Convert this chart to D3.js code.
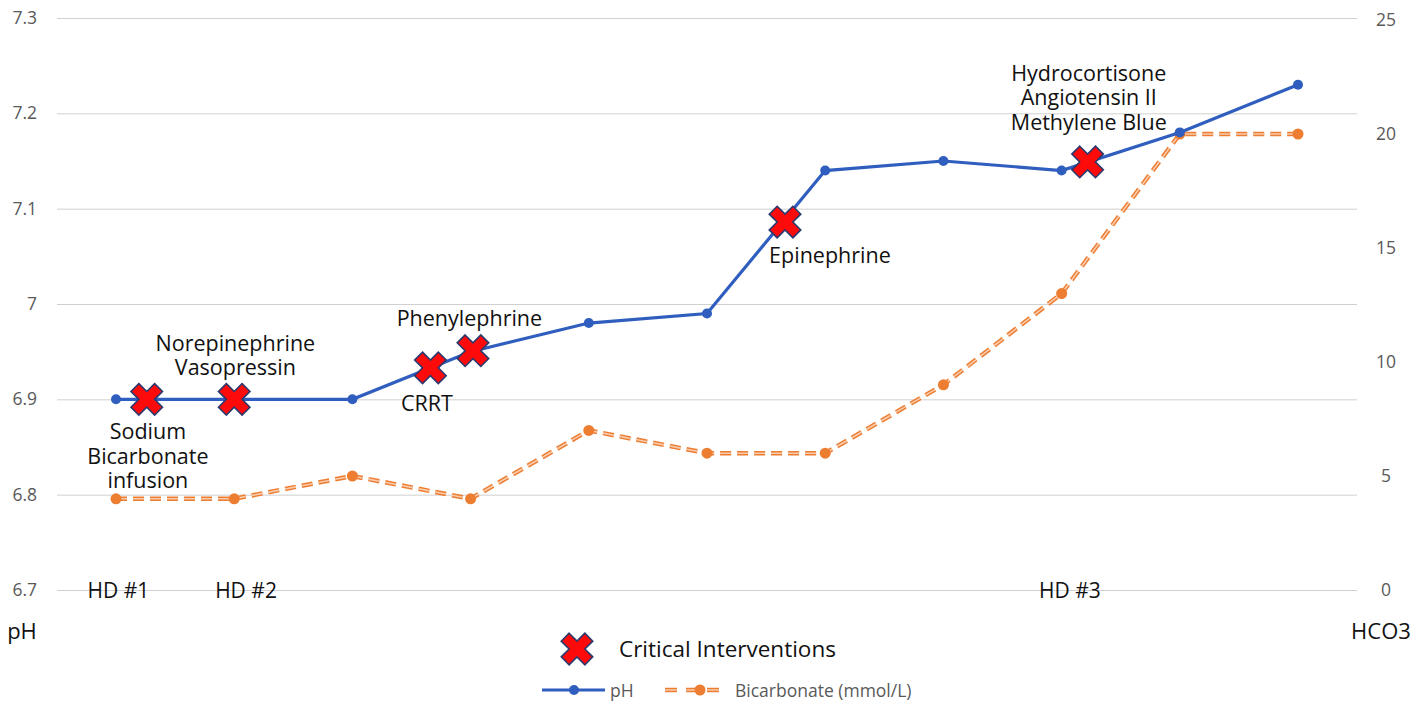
<!DOCTYPE html>
<html>
<head>
<meta charset="utf-8">
<script src="https://cdn.jsdelivr.net/npm/d3@7"></script>
<style>
  body { margin: 0; background: #fff; }
  text { font-family: "Open Sans", "Liberation Sans", sans-serif; }
</style>
</head>
<body>
<div id="plot"></div>
<script>
// ############ DATA ###############

const steps = d3.range(11);
const phValues = [6.9, 6.9, 6.9, 6.95, 6.98, 6.99, 7.14, 7.15, 7.14, 7.18, 7.23];
const bicarbValues = [4, 4, 5, 4, 7, 6, 6, 9, 13, 20, 20];

const phTicks = [6.7, 6.8, 6.9, 7.0, 7.1, 7.2, 7.3];
const hco3Ticks = [0, 5, 10, 15, 20, 25];

// interventions: position along the step axis, pH at that spot
const interventionPos = [0.26, 1.0, 2.66, 3.02, 5.66, 8.22];
const interventionPh = [6.9, 6.9, 6.933, 6.951, 7.086, 7.149];

// annotation text, anchored on step / pH
const noteLines = [
  ["Sodium", "Bicarbonate", "infusion"],
  ["Norepinephrine", "Vasopressin"],
  ["Phenylephrine"],
  ["CRRT"],
  ["Epinephrine"],
  ["Hydrocortisone", "Angiotensin II", "Methylene Blue"]
];
const notePos = [0.27, 1.01, 2.99, 2.63, 6.04, 8.23];
const notePh = [6.858, 6.951, 6.977, 6.888, 7.043, 7.234];

const hdLabels = ["HD #1", "HD #2", "HD #3"];
const hdPos = [0.02, 1.1, 8.07];

// ############ SETUP ###############

const w = 1412, h = 704;
const left = 57, right = 1357;

const svg = d3.select("div#plot")
  .append("svg")
  .attr("width", w)
  .attr("height", h);

const xScale = d3.scaleLinear().domain([0, 10]).range([116, 1298]);
const yScale = d3.scaleLinear().domain([6.7, 7.3]).range([590, 18]);
const y2Scale = d3.scaleLinear().domain([0, 25]).range([590, 20]);

const blue = "#2F5EBF";
const orange = "#ED7D31";
const grey = "#595959";

// gridlines + left axis
svg.append("g")
  .attr("id", "yaxis")
  .attr("transform", `translate(${left},0)`)
  .call(d3.axisLeft(yScale).tickValues(phTicks).tickSize(-(right - left)).tickPadding(20)
    .tickFormat(d => d3.format("")(+d.toFixed(1))))
  .call(g => g.select(".domain").remove())
  .call(g => g.selectAll("line").attr("stroke", "#d0d0d0").attr("stroke-width", 1))
  .call(g => g.selectAll("text").attr("fill", grey).style("font-size", "17.5px")
    .style("font-family", "'Open Sans', sans-serif"));

// right axis
svg.append("g")
  .attr("id", "y2axis")
  .attr("transform", `translate(${right},0)`)
  .call(d3.axisRight(y2Scale).tickValues(hco3Ticks).tickSize(0).tickPadding(29))
  .call(g => g.select(".domain").remove())
  .call(g => g.selectAll("text").attr("fill", grey).attr("text-anchor", "middle")
    .style("font-size", "17.5px").style("font-family", "'Open Sans', sans-serif"));

// axis titles
svg.append("text").attr("x", 22).attr("y", 639).attr("text-anchor", "middle")
  .style("font-size", "22px").attr("fill", "#111").text("pH");
svg.append("text").attr("x", 1381).attr("y", 639).attr("text-anchor", "middle")
  .style("font-size", "22px").attr("fill", "#111").text("HCO3");

// HD labels
svg.append("g").selectAll("text")
  .data(hdLabels)
  .enter()
  .append("text")
    .attr("x", (d, i) => xScale(hdPos[i]))
    .attr("y", 598)
    .attr("text-anchor", "middle")
    .style("font-size", "21px")
    .attr("fill", "#111")
    .text(d => d);

// bicarbonate line
const bicarbLine = d3.line().x((d, i) => xScale(i)).y(d => y2Scale(d));

svg.append("path")
  .datum(bicarbValues)
  .attr("d", bicarbLine)
  .attr("fill", "none")
  .attr("stroke", orange)
  .attr("stroke-width", 4.5)
  .attr("stroke-dasharray", "11,6");

svg.append("path")
  .datum(bicarbValues)
  .attr("d", bicarbLine)
  .attr("fill", "none")
  .attr("stroke", "#F8CBAD")
  .attr("stroke-width", 1.6)
  .attr("stroke-dasharray", "11,6");

svg.append("g").selectAll("circle")
  .data(bicarbValues)
  .enter()
  .append("circle")
    .attr("cx", (d, i) => xScale(i))
    .attr("cy", d => y2Scale(d))
    .attr("r", 5.5)
    .attr("fill", orange);

// pH line
svg.append("path")
  .datum(phValues)
  .attr("d", d3.line().x((d, i) => xScale(i)).y(d => yScale(d)))
  .attr("fill", "none")
  .attr("stroke", blue)
  .attr("stroke-width", 3.2);

svg.append("g").selectAll("circle")
  .data(phValues)
  .enter()
  .append("circle")
    .attr("cx", (d, i) => xScale(i))
    .attr("cy", d => yScale(d))
    .attr("r", 5)
    .attr("fill", blue);

// intervention markers
const crossPath = d3.symbol().type(d3.symbolCross).size(620)();

function drawCross(g, x, y) {
  g.append("path")
    .attr("d", crossPath)
    .attr("transform", `translate(${x},${y}) rotate(45)`)
    .attr("fill", "#FF0A0A")
    .attr("stroke", "#2A3A6E")
    .attr("stroke-width", 1.6)
    .attr("stroke-linejoin", "miter");
}

const marks = svg.append("g").attr("id", "interventions");
interventionPos.forEach((p, i) => drawCross(marks, xScale(p), yScale(interventionPh[i])));

// annotations
const notes = svg.append("g").attr("id", "notes");
noteLines.forEach((lines, i) => {
  const t = notes.append("text")
    .attr("x", xScale(notePos[i]))
    .attr("y", yScale(notePh[i]))
    .attr("text-anchor", "middle")
    .style("font-size", "21.5px")
    .attr("fill", "#111");
  lines.forEach((l, j) => {
    t.append("tspan")
      .attr("x", xScale(notePos[i]))
      .attr("dy", j === 0 ? 0 : 24.5)
      .text(l);
  });
});

// ############ LEGENDS ###############

drawCross(svg, 577, 649);
svg.append("text").attr("x", 619).attr("y", 657)
  .style("font-size", "22.5px").attr("fill", "#111").text("Critical Interventions");

svg.append("line").attr("x1", 542).attr("x2", 605).attr("y1", 690).attr("y2", 690)
  .attr("stroke", blue).attr("stroke-width", 3);
svg.append("circle").attr("cx", 574).attr("cy", 690).attr("r", 5).attr("fill", blue);
svg.append("text").attr("x", 610).attr("y", 697)
  .style("font-size", "17.5px").attr("fill", grey).text("pH");

svg.append("line").attr("x1", 665).attr("x2", 728).attr("y1", 690).attr("y2", 690)
  .attr("stroke", orange).attr("stroke-width", 4.5).attr("stroke-dasharray", "12,9");
svg.append("line").attr("x1", 665).attr("x2", 728).attr("y1", 690).attr("y2", 690)
  .attr("stroke", "#F8CBAD").attr("stroke-width", 1.6).attr("stroke-dasharray", "12,9");
svg.append("circle").attr("cx", 700).attr("cy", 690).attr("r", 5.5).attr("fill", orange);
svg.append("text").attr("x", 735).attr("y", 697)
  .style("font-size", "17.5px").attr("fill", grey).text("Bicarbonate (mmol/L)");
</script>
</body>
</html>
